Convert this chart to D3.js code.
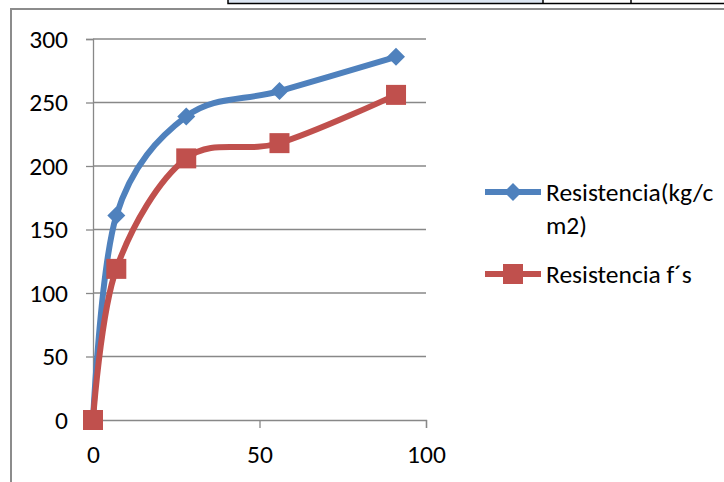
<!DOCTYPE html>
<html>
<head>
<meta charset="utf-8">
<script src="https://cdn.jsdelivr.net/npm/d3@7"></script>
<style>
  html, body { margin: 0; padding: 0; background: #fff; }
  svg { display: block; font-family: Carlito, Calibri, Lato, "Liberation Sans", sans-serif; }
</style>
</head>
<body>
<svg id="chart" width="724" height="482"></svg>
<script>
// Curing age (days) and compressive strength
const ages = [0, 7, 28, 56, 91];
const resistencia = [0, 161, 239, 259, 286];
const resistenciaFs = [0, 119, 206, 218, 256];
const seriesNames = ["Resistencia(kg/c", "m2)", "Resistencia f´s"];
const yTicks = [0, 50, 100, 150, 200, 250, 300];
const xTicks = [0, 50, 100];

const svg = d3.select("#chart");
const blue = "#4F81BD", red = "#C0504D", grid = "#888888";
const fontFamily = "Carlito, Calibri, Lato, 'Liberation Sans', sans-serif";

// Spreadsheet table edge visible above the chart
const table = svg.append("g");
table.append("rect").attr("x", 228).attr("y", -2).attr("width", 315).attr("height", 5.5).attr("fill", "#DBE5F1");
table.append("rect").attr("x", 228).attr("y", -2).attr("width", 500).attr("height", 5.5)
  .attr("fill", "none").attr("stroke", "#000").attr("stroke-width", 1.5);
[543, 631].forEach(x => table.append("line").attr("x1", x).attr("x2", x).attr("y1", 0).attr("y2", 3.5)
  .attr("stroke", "#000").attr("stroke-width", 1.5));

// Chart frame
svg.append("path").attr("d", "M11,490 V9 H740").attr("fill", "none").attr("stroke", "#8c8c8c").attr("stroke-width", 2);

const x = d3.scaleLinear().domain([0, 100]).range([93, 426]);
const y = d3.scaleLinear().domain([0, 300]).range([420, 39]);

// Horizontal gridlines
svg.append("g").selectAll("line").data(yTicks.filter(d => d > 0)).join("line")
  .attr("x1", x(0)).attr("x2", x(100)).attr("y1", d => y(d)).attr("y2", d => y(d))
  .attr("stroke", grid).attr("stroke-width", 1.3);

// Axes
const yAxis = svg.append("g").attr("transform", `translate(${x(0)},0)`)
  .call(d3.axisLeft(y).tickValues(yTicks).tickSize(7).tickPadding(18));
const xAxis = svg.append("g").attr("transform", `translate(0,${y(0)})`)
  .call(d3.axisBottom(x).tickValues(xTicks).tickSize(8).tickPadding(17));
[yAxis, xAxis].forEach(a => {
  a.select(".domain").attr("stroke", grid).attr("stroke-width", 1.3);
  a.selectAll(".tick line").attr("stroke", grid).attr("stroke-width", 1.3);
  a.selectAll("text").attr("fill", "#000").style("font-size", "25.5px")
    .style("font-family", fontFamily);
});

const line = d3.line().x(d => x(d[0])).y(d => y(d[1])).curve(d3.curveCardinal.tension(0));
const blueData = ages.map((a, i) => [a, resistencia[i]]);
const redData = ages.map((a, i) => [a, resistenciaFs[i]]);

svg.append("path").datum(blueData).attr("d", line).attr("fill", "none")
  .attr("stroke", blue).attr("stroke-width", 6).attr("stroke-linejoin", "round");
svg.append("path").datum(redData).attr("d", line).attr("fill", "none")
  .attr("stroke", red).attr("stroke-width", 6).attr("stroke-linejoin", "round");

const diamond = s => `M0,${-s}L${s},0L0,${s}L${-s},0Z`;
svg.append("g").selectAll("path").data(blueData).join("path")
  .attr("transform", d => `translate(${x(d[0])},${y(d[1])})`)
  .attr("d", diamond(9)).attr("fill", blue);
svg.append("g").selectAll("rect").data(redData).join("rect")
  .attr("x", d => x(d[0]) - 10).attr("y", d => y(d[1]) - 10)
  .attr("width", 20).attr("height", 20).attr("fill", red);

// Legend
const lg = svg.append("g");
lg.append("line").attr("x1", 485).attr("x2", 541).attr("y1", 192).attr("y2", 192)
  .attr("stroke", blue).attr("stroke-width", 6);
lg.append("path").attr("transform", "translate(513,192)").attr("d", diamond(9)).attr("fill", blue);
lg.append("line").attr("x1", 485).attr("x2", 541).attr("y1", 274).attr("y2", 274)
  .attr("stroke", red).attr("stroke-width", 6);
lg.append("rect").attr("x", 503).attr("y", 264).attr("width", 20).attr("height", 20).attr("fill", red);
const legendText = [[seriesNames[0], 192], [seriesNames[1], 225], [seriesNames[2], 274]];
lg.selectAll("text").data(legendText).join("text")
  .attr("x", 546).attr("y", d => d[1]).attr("dy", "0.35em")
  .style("font-size", "25.5px").style("font-family", fontFamily).attr("fill", "#000").text(d => d[0]);
</script>
</body>
</html>
